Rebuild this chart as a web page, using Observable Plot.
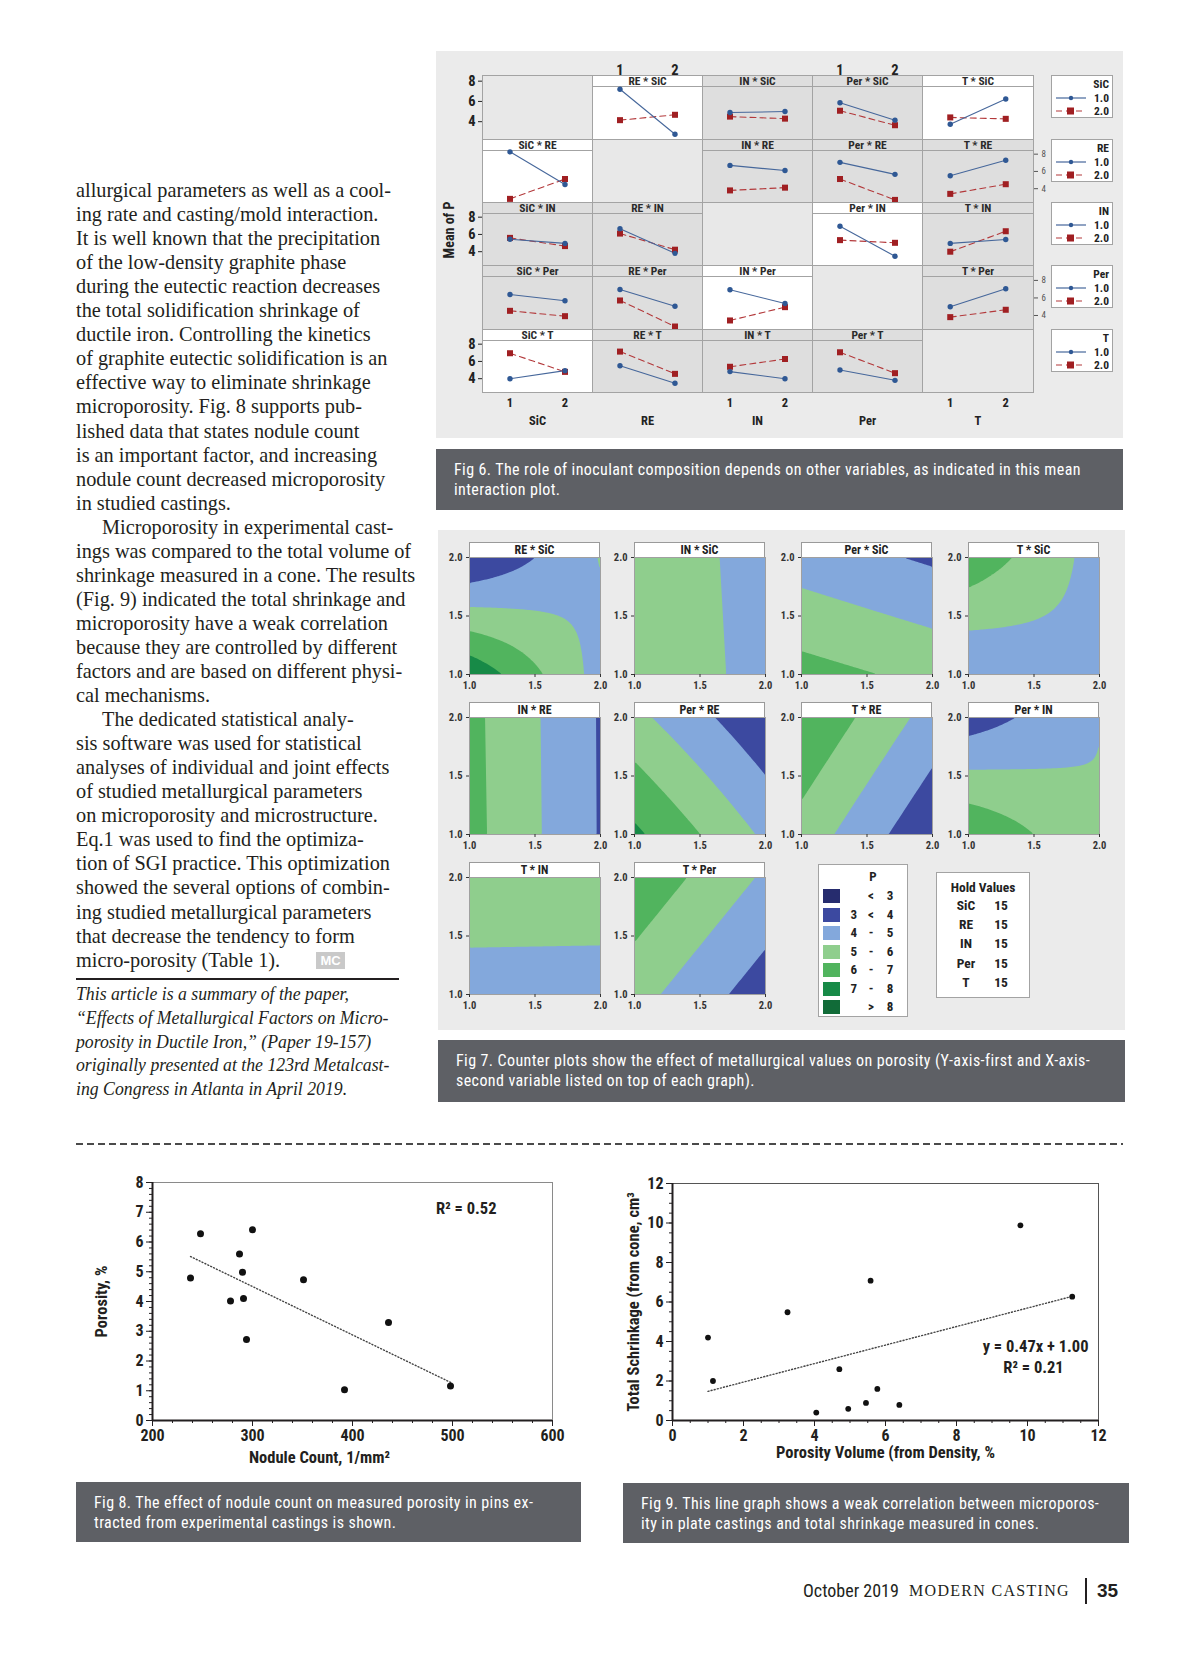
<!DOCTYPE html>
<html><head><meta charset="utf-8">
<script src="https://cdn.jsdelivr.net/npm/d3@7"></script>
<script src="https://cdn.jsdelivr.net/npm/@observablehq/plot@0.6"></script>
<style>
html,body{margin:0;padding:0;background:#fff;}
#page{position:relative;width:1200px;height:1657px;overflow:hidden;background:#fff;color:#231f20;}
</style></head>
<body><div id="page"></div>
<script>
// ================= DATA =================
const bodyLines = [
  "allurgical parameters as well as a cool-",
  "ing rate and casting/mold interaction.",
  "It is well known that the precipitation",
  "of the low-density graphite phase",
  "during the eutectic reaction decreases",
  "the total solidification shrinkage of",
  "ductile iron. Controlling the kinetics",
  "of graphite eutectic solidification is an",
  "effective way to eliminate shrinkage",
  "microporosity. Fig. 8 supports pub-",
  "lished data that states nodule count",
  "is an important factor, and increasing",
  "nodule count decreased microporosity",
  "in studied castings.",
  "Microporosity in experimental cast-",
  "ings was compared to the total volume of",
  "shrinkage measured in a cone. The results",
  "(Fig. 9) indicated the total shrinkage and",
  "microporosity have a weak correlation",
  "because they are controlled by different",
  "factors and are based on different physi-",
  "cal mechanisms.",
  "The dedicated statistical analy-",
  "sis software was used for statistical",
  "analyses of individual and joint effects",
  "of studied metallurgical parameters",
  "on microporosity and microstructure.",
  "Eq.1 was used to find the optimiza-",
  "tion of SGI practice. This optimization",
  "showed the several options of combin-",
  "ing studied metallurgical parameters",
  "that decrease the tendency to form",
  "micro-porosity (Table 1)."
];
const indentedLines = [14, 22];
const noteLines = [
  "This article is a summary of the paper,",
  "\u201cEffects of Metallurgical Factors on Micro-",
  "porosity in Ductile Iron,\u201d (Paper 19-157)",
  "originally presented at the 123rd Metalcast-",
  "ing Congress in Atlanta in April 2019."
];

// Fig 6 – interaction plot (rows: legend factor, columns: x factor)
const factors = ["SiC", "RE", "IN", "Per", "T"];
const factorLevels = [1, 2];
const levelLabels = ["1.0", "2.0"];
const meanTicks = [4, 6, 8];
// mean of P at x = 1 and x = 2 for level 1.0 of the row factor
const meanP_level1 = [
  [null, [7.2, 2.76], [4.9, 5.0], [5.87, 4.15], [3.75, 6.24]],
  [[8.27, 4.48], null, [6.7, 6.1], [7.05, 5.66], [5.5, 7.29]],
  [[5.45, 4.96], [6.67, 3.81], null, [6.94, 3.47], [4.96, 5.42]],
  [[6.4, 5.68], [6.97, 5.06], [6.93, 5.37], null, [5.0, 7.05]],
  [[4.0, 4.93], [5.5, 3.48], [4.82, 4.0], [5.01, 3.81], null]
];
// mean of P at x = 1 and x = 2 for level 2.0 of the row factor
const meanP_level2 = [
  [null, [4.15, 4.68], [4.5, 4.3], [5.08, 3.65], [4.42, 4.28]],
  [[2.82, 5.12], null, [3.8, 4.12], [5.12, 2.7], [3.4, 4.52]],
  [[5.6, 4.65], [6.1, 4.23], null, [5.34, 5.03], [4.0, 6.37]],
  [[4.53, 3.92], [5.71, 2.74], [3.43, 4.95], null, [3.81, 4.65]],
  [[6.95, 4.79], [7.14, 4.56], [5.38, 6.28], [7.06, 4.64], null]
];
const whitePanels = ["RE * SiC", "T * SiC", "SiC * RE", "Per * IN", "IN * Per", "SiC * T"];

// Fig 7 – contour plots; P at corners (x,y) = (1,1), (2,1), (1,2), (2,2)
const contourTitles = ["RE * SiC", "IN * SiC", "Per * SiC", "T * SiC", "IN * RE", "Per * RE", "T * RE", "Per * IN", "T * IN", "T * Per"];
const cornerP = [
  [7.8, 4.6, 2.95, 5.05],
  [5.7, 4.7, 5.65, 4.65],
  [6.37, 5.74, 4.52, 3.85],
  [3.98, 4.9, 6.7, 4.6],
  [6.32, 3.93, 6.28, 3.92],
  [7.2, 4.82, 5.28, 3.2],
  [5.6, 3.19, 6.98, 4.6],
  [6.92, 5.08, 3.45, 4.98],
  [4.6, 4.58, 5.6, 5.58],
  [5.38, 3.46, 6.77, 4.85]
];
const contourTicks = [1, 1.5, 2];
const pThresholds = [3, 4, 5, 6, 7, 8];
const pColors = ["#262c6e", "#3c49a0", "#83a8dc", "#8fce8d", "#51b45e", "#178a47", "#116b38"];
const pLabelLeft = ["", "3", "4", "5", "6", "7", ""];
const pLabelOp = ["<", "<", "-", "-", "-", "-", ">"];
const pLabelRight = ["3", "4", "5", "6", "7", "8", "8"];
const holdNames = ["SiC", "RE", "IN", "Per", "T"];
const holdValues = [15, 15, 15, 15, 15];

// Fig 8
const noduleCount = [238, 248, 278, 287, 290, 291, 294, 300, 351, 392, 436, 498];
const porosity = [4.79, 6.28, 4.02, 5.6, 4.98, 4.1, 2.72, 6.41, 4.73, 1.03, 3.29, 1.16];
const fig8XTicks = [200, 300, 400, 500, 600];
const fig8YTicks = [0, 1, 2, 3, 4, 5, 6, 7, 8];

// Fig 9
const porosityVolume = [1.0, 1.14, 3.24, 4.05, 4.70, 4.95, 5.45, 5.58, 5.77, 6.39, 9.80, 11.26];
const totalShrinkage = [4.2, 2.0, 5.48, 0.40, 2.60, 0.59, 0.89, 7.08, 1.60, 0.79, 9.88, 6.27];
const fig9XTicks = [0, 2, 4, 6, 8, 10, 12];
const fig9YTicks = [0, 2, 4, 6, 8, 10, 12];

const caption6 = ["Fig 6. The role of inoculant composition depends on other variables, as indicated in this mean", "interaction plot."];
const caption7 = ["Fig 7. Counter plots show the effect of metallurgical values on porosity (Y-axis-first and X-axis-", "second variable listed on top of each graph)."];
const caption8 = ["Fig 8. The effect of nodule count on measured porosity in pins ex-", "tracted from experimental castings is shown."];
const caption9 = ["Fig 9. This line graph shows a weak correlation between microporos-", "ity in plate castings and total shrinkage measured in cones."];

// ================= HELPERS =================
const COND = '"Liberation Sans Narrow","Arial Narrow","Roboto Condensed","DejaVu Sans Condensed",Roboto,sans-serif';
const page = document.getElementById("page");
function div(x, y, w, h, css, text) {
  const d = document.createElement("div");
  d.style.position = "absolute";
  d.style.left = x + "px"; d.style.top = y + "px";
  if (w != null) d.style.width = w + "px";
  if (h != null) d.style.height = h + "px";
  d.style.boxSizing = "border-box";
  if (css) d.style.cssText += css;
  if (text != null) d.textContent = text;
  page.appendChild(d);
  return d;
}
function place(svg, x, y) {
  svg.style.position = "absolute";
  svg.style.left = x + "px"; svg.style.top = y + "px";
  svg.style.maxWidth = "none";
  page.appendChild(svg);
  return svg;
}
function caption(x, y, w, h, lines) {
  div(x, y, w, h, `background:#5e6065;`);
  lines.forEach((t, i) => div(x + 18, y + 11 + i * 19.5, w - 20, 20,
    `color:#fff;font:16px/20px ${COND};letter-spacing:0.4px;white-space:nowrap;`, t));
}
const intFmt = d3.format("d");

// ================= TEXT COLUMN =================
bodyLines.forEach((t, i) => {
  div(76 + (indentedLines.includes(i) ? 26 : 0), 178 + i * 24.05, null, 24,
    `font:20.3px/24px "Liberation Serif","Times New Roman",serif;white-space:nowrap;color:#231f20;`, t);
});
div(316, 952, 29, 17, `background:#c9c9c9;color:#fff;font:bold 13px/17px "Liberation Sans",Arial,sans-serif;text-align:center;`, "MC");
div(76, 978, 323, 1.6, `background:#231f20;`);
noteLines.forEach((t, i) => {
  div(76, 982 + i * 23.8, null, 24,
    `font:italic 19.6px/24px "Liberation Serif","Times New Roman",serif;white-space:nowrap;color:#231f20;transform:scaleX(0.905);transform-origin:0 50%;`, t);
});

// ================= FIG 6 =================
const BLUE = "#2f5894", RED = "#a01f22";
div(436, 51, 687, 387, "background:#ebebeb;");
const colE = [482, 592, 702, 812, 922, 1033];
const rowE = [75, 139, 202, 265, 329, 392];
const rowDomain = r => r === 0 ? [2.24, 8.56] : [2.4, 9.7];
for (let r = 0; r < 5; r++) {
  for (let c = 0; c < 5; c++) {
    const x0 = colE[c], y0 = rowE[r], w = colE[c + 1] - x0, h = rowE[r + 1] - y0;
    const title = r === c ? null : `${factors[c]} * ${factors[r]}`;
    const white = title && whitePanels.includes(title);
    const bg = title ? (white ? "#ffffff" : "#dedede") : "#e8e8e8";
    div(x0, y0, w + 1, h + 1, `background:${bg};border:1px solid #a3a3a3;`);
    if (title) div(x0, y0, w + 1, 12, `background:${bg};border:1px solid #a3a3a3;font:bold 11.5px/10px ${COND};color:#2a2a2a;text-align:center;`, title);
    const hasLeft = c === 0 && r % 2 === 0, hasRight = c === 4 && r % 2 === 1;
    const hasTop = r === 0 && c % 2 === 1, hasBottom = r === 4;
    const mL = hasLeft ? 34 : 0, mR = hasRight ? 26 : 0, mT = hasTop ? 20 : 0, mB = hasBottom ? 38 : 0;
    const marks = [];
    if (title) {
      const d1 = factorLevels.map((lv, i) => ({x: lv, y: meanP_level1[r][c][i]}));
      const d2 = factorLevels.map((lv, i) => ({x: lv, y: meanP_level2[r][c][i]}));
      marks.push(
        Plot.line(d2, {x: "x", y: "y", stroke: "#b3393b", strokeWidth: 1.1, strokeDasharray: "6,4"}),
        Plot.line(d1, {x: "x", y: "y", stroke: "#46679b", strokeWidth: 1.1}),
        Plot.dot(d2, {x: "x", y: "y", symbol: "square", r: 3.4, fill: RED, stroke: "none"}),
        Plot.dot(d1, {x: "x", y: "y", symbol: "circle", r: 2.7, fill: BLUE, stroke: "none"})
      );
    }
    if (hasLeft) marks.push(Plot.axisY({anchor: "left", ticks: meanTicks, tickFormat: intFmt, tickSize: 4, tickPadding: 3, fontSize: 14.5, fontWeight: "bold", label: null}));
    if (hasRight) marks.push(Plot.axisY({anchor: "right", ticks: meanTicks, tickFormat: intFmt, tickSize: 4, tickPadding: 4, fontSize: 9, label: null, color: "#555"}));
    if (hasTop) marks.push(Plot.axisX({anchor: "top", ticks: factorLevels, tickFormat: intFmt, tickSize: 0, tickPadding: 1, fontSize: 14.5, fontWeight: "bold", label: null}));
    if (hasBottom) {
      marks.push(Plot.axisX({anchor: "bottom", ticks: c % 2 === 0 ? factorLevels : [], tickFormat: intFmt, tickSize: 0, tickPadding: 6, fontSize: 12.5, fontWeight: "bold", label: null}));
      marks.push(Plot.text([factors[c]], {frameAnchor: "bottom", dy: 28, lineAnchor: "middle", textAnchor: "middle", fontSize: 12.5, fontWeight: "bold", fill: "#222"}));
    }
    const svg = Plot.plot({
      width: w + mL + mR, height: h + mT + mB,
      marginLeft: mL, marginRight: mR, marginTop: mT, marginBottom: mB,
      x: {domain: [0.5, 2.5], axis: null}, y: {domain: rowDomain(r), axis: null},
      style: {background: "transparent", fontFamily: COND, color: "#222", overflow: "visible"},
      marks
    });
    place(svg, x0 - mL, y0 - mT);
  }
}
// legends on right
factors.forEach((f, r) => {
  const y0 = rowE[r];
  div(1051, y0, 62, 43, "background:#fff;border:1px solid #a3a3a3;");
  div(1051, y0 + 3, 58, 12, `font:bold 11.5px/12px ${COND};text-align:right;color:#222;`, f);
  levelLabels.forEach((lab, i) => {
    const yc = y0 + 22.5 + i * 13.5;
    const ns = "http://www.w3.org/2000/svg";
    const s = document.createElementNS(ns, "svg");
    s.setAttribute("width", 34); s.setAttribute("height", 10);
    s.innerHTML = i === 0
      ? `<line x1="1" x2="31" y1="5" y2="5" stroke="#46679b" stroke-width="1.2"/><circle cx="16" cy="5" r="2.2" fill="${BLUE}"/>`
      : `<line x1="1" x2="31" y1="5" y2="5" stroke="#b3393b" stroke-width="1.2" stroke-dasharray="6,4"/><rect x="12" y="1.5" width="7" height="7" fill="${RED}"/>`;
    s.style.position = "absolute"; s.style.left = "1055px"; s.style.top = (yc - 5) + "px";
    page.appendChild(s);
    div(1085, yc - 6, 24, 12, `font:bold 11.5px/12px ${COND};text-align:right;color:#222;`, lab);
  });
});
div(449 - 50, 230 - 8, 100, 16, `font:bold 14px/16px ${COND};text-align:center;transform:rotate(-90deg);color:#222;`, "Mean of P");
caption(436, 449, 687, 61, caption6);

// ================= FIG 7 =================
div(438, 530, 687, 500, "background:#ebebeb;");
const cX = [469, 634, 801, 968], cY = [557, 717, 877];
const PW = 131, PH = 117;
contourTitles.forEach((t, i) => {
  const col = i % 4, row = Math.floor(i / 4);
  const x0 = cX[col], y0 = cY[row];
  div(x0, y0 - 15, PW, 16, `background:#fff;border:1px solid #9a9a9a;font:bold 12px/14px ${COND};text-align:center;color:#222;`, t);
  const [p11, p21, p12, p22] = cornerP[i];
  const surface = (x, y) => {
    const u = x - 1, v = y - 1;
    return p11 * (1 - u) * (1 - v) + p21 * u * (1 - v) + p12 * (1 - u) * v + p22 * u * v;
  };
  const mL = 30, mR = 10, mB = 22;
  const svg = Plot.plot({
    width: PW + mL + mR, height: PH + mB,
    marginLeft: mL, marginRight: mR, marginTop: 0, marginBottom: mB,
    x: {domain: [1, 2]}, y: {domain: [1, 2]},
    color: {type: "threshold", domain: pThresholds, range: pColors},
    style: {background: "transparent", fontFamily: COND, color: "#333", overflow: "visible"},
    marks: [
      Plot.contour({x1: 1, y1: 1, x2: 2, y2: 2, fill: surface, thresholds: [0, ...pThresholds], stroke: "none"}),
      Plot.frame({stroke: "#a0a0a0"}),
      Plot.axisX({ticks: contourTicks, tickFormat: d3.format(".1f"), tickSize: 3, tickPadding: 4, fontSize: 10.5, fontWeight: "bold", label: null}),
      Plot.axisY({ticks: contourTicks, tickFormat: d3.format(".1f"), tickSize: 3, tickPadding: 4, fontSize: 10.5, fontWeight: "bold", label: null})
    ]
  });
  place(svg, x0 - mL, y0);
});
// P legend
div(818, 864, 90, 153, "background:#fff;border:1px solid #a3a3a3;");
div(853, 869, 40, 16, `font:bold 13px/16px ${COND};text-align:center;color:#222;`, "P");
pColors.forEach((col, i) => {
  const yc = 896 + i * 18.5;
  div(823, yc - 7, 17, 14, `background:${col};`);
  div(843, yc - 8, 14, 16, `font:bold 13px/16px ${COND};text-align:right;color:#222;`, pLabelLeft[i]);
  div(864, yc - 8, 14, 16, `font:bold 13px/16px ${COND};text-align:center;color:#222;`, pLabelOp[i]);
  div(882, yc - 8, 16, 16, `font:bold 13px/16px ${COND};text-align:center;color:#222;`, pLabelRight[i]);
});
// Hold values
div(936, 872, 94, 126, "background:#fff;border:1px solid #a3a3a3;");
div(936, 879, 94, 16, `font:bold 13.5px/16px ${COND};text-align:center;color:#222;`, "Hold Values");
holdNames.forEach((n, i) => {
  const yc = 905 + i * 19.2;
  div(946, yc - 8, 40, 16, `font:bold 13.5px/16px ${COND};text-align:center;color:#222;`, n);
  div(988, yc - 8, 26, 16, `font:bold 13.5px/16px ${COND};text-align:center;color:#222;`, String(holdValues[i]));
});
caption(438, 1040, 687, 62, caption7);

// separator
div(76, 1143, 1047, 2, "background:repeating-linear-gradient(90deg,#4a4a4a 0 7px,transparent 7px 11px);");

// ================= FIG 8 =================
const fig8Data = noduleCount.map((x, i) => ({x, y: porosity[i]}));
const fig8 = Plot.plot({
  width: 506, height: 315, marginLeft: 76, marginRight: 30, marginTop: 22, marginBottom: 55,
  x: {domain: [200, 600]}, y: {domain: [0, 8]},
  style: {background: "transparent", fontFamily: COND, color: "#231f20", overflow: "visible"},
  marks: [
    Plot.frame({stroke: "#8a8a8a"}),
    Plot.axisX({ticks: d3.range(200, 601, 20), tickSize: 3, tickFormat: () => "", label: null}),
    Plot.axisX({ticks: fig8XTicks, tickFormat: intFmt, tickSize: 6, tickPadding: 3, fontSize: 16, fontWeight: "bold", label: null}),
    Plot.axisY({ticks: d3.range(0, 8.01, 0.2), tickSize: 3, tickFormat: () => "", label: null}),
    Plot.axisY({ticks: fig8YTicks, tickFormat: intFmt, tickSize: 6, tickPadding: 3, fontSize: 16, fontWeight: "bold", label: null}),
    Plot.ruleY([0], {stroke: "#231f20", strokeWidth: 2}),
    Plot.ruleX([200], {stroke: "#231f20", strokeWidth: 2}),
    Plot.linearRegressionY(fig8Data, {x: "x", y: "y", ci: 0, stroke: "#444", strokeWidth: 1.4, strokeDasharray: "1,2.2"}),
    Plot.dot(fig8Data, {x: "x", y: "y", r: 3.5, fill: "#111", stroke: "none"}),
    Plot.text(["R\u00b2 = 0.52"], {frameAnchor: "top-right", dx: -56, dy: 26, textAnchor: "end", lineAnchor: "middle", fontSize: 16.5, fontWeight: "bold"}),
    Plot.text(["Nodule Count, 1/mm\u00b2"], {frameAnchor: "bottom", dx: -33, dy: 37, textAnchor: "middle", lineAnchor: "middle", fontSize: 16.5, fontWeight: "bold"}),
    Plot.text(["Porosity, %"], {frameAnchor: "left", dx: -51, rotate: -90, textAnchor: "middle", lineAnchor: "middle", fontSize: 16.5, fontWeight: "bold"})
  ]
});
place(fig8, 76, 1160);
caption(76, 1482, 505, 60, caption8);

// ================= FIG 9 =================
const fig9Data = porosityVolume.map((x, i) => ({x, y: totalShrinkage[i]}));
const fig9 = Plot.plot({
  width: 502, height: 315, marginLeft: 49, marginRight: 27, marginTop: 23, marginBottom: 55,
  x: {domain: [0, 12]}, y: {domain: [0, 12]},
  style: {background: "transparent", fontFamily: COND, color: "#231f20", overflow: "visible"},
  marks: [
    Plot.frame({stroke: "#555"}),
    Plot.axisX({ticks: d3.range(0, 12.01, 0.5), tickSize: 3, tickFormat: () => "", label: null}),
    Plot.axisX({ticks: fig9XTicks, tickFormat: intFmt, tickSize: 6, tickPadding: 3, fontSize: 16, fontWeight: "bold", label: null}),
    Plot.axisY({ticks: d3.range(0, 12.01, 0.5), tickSize: 3, tickFormat: () => "", label: null}),
    Plot.axisY({ticks: fig9YTicks, tickFormat: intFmt, tickSize: 6, tickPadding: 3, fontSize: 16, fontWeight: "bold", label: null}),
    Plot.ruleY([0], {stroke: "#231f20", strokeWidth: 2}),
    Plot.ruleX([0], {stroke: "#231f20", strokeWidth: 2}),
    Plot.linearRegressionY(fig9Data, {x: "x", y: "y", ci: 0, stroke: "#444", strokeWidth: 1.4, strokeDasharray: "1,2.2"}),
    Plot.dot(fig9Data, {x: "x", y: "y", r: 2.9, fill: "#111", stroke: "none"}),
    Plot.text(["y = 0.47x + 1.00"], {frameAnchor: "top-right", dx: -10, dy: 163, textAnchor: "end", lineAnchor: "middle", fontSize: 16.5, fontWeight: "bold"}),
    Plot.text(["R\u00b2 = 0.21"], {frameAnchor: "top-right", dx: -65, dy: 184, textAnchor: "middle", lineAnchor: "middle", fontSize: 16.5, fontWeight: "bold"}),
    Plot.text(["Porosity Volume (from Density, %"], {frameAnchor: "bottom", dy: 32, textAnchor: "middle", lineAnchor: "middle", fontSize: 16.5, fontWeight: "bold"}),
    Plot.text(["Total Schrinkage (from cone, cm\u00b3"], {frameAnchor: "left", dx: -39, rotate: -90, textAnchor: "middle", lineAnchor: "middle", fontSize: 16.5, fontWeight: "bold"})
  ]
});
place(fig9, 623, 1160);
caption(623, 1483, 506, 60, caption9);

// ================= FOOTER =================
div(803, 1580, 110, 22, `font:18px/22px ${COND};color:#231f20;white-space:nowrap;`, "October 2019");
div(909, 1580, 172, 22, `font:16px/22px "Liberation Serif",serif;color:#231f20;white-space:nowrap;letter-spacing:1.3px;`, "MODERN CASTING");
div(1085, 1578, 1.5, 26, "background:#231f20;");
div(1097, 1579, 30, 24, `font:bold 19px/24px "Liberation Sans",Arial,sans-serif;color:#231f20;`, "35");
</script></body></html>
